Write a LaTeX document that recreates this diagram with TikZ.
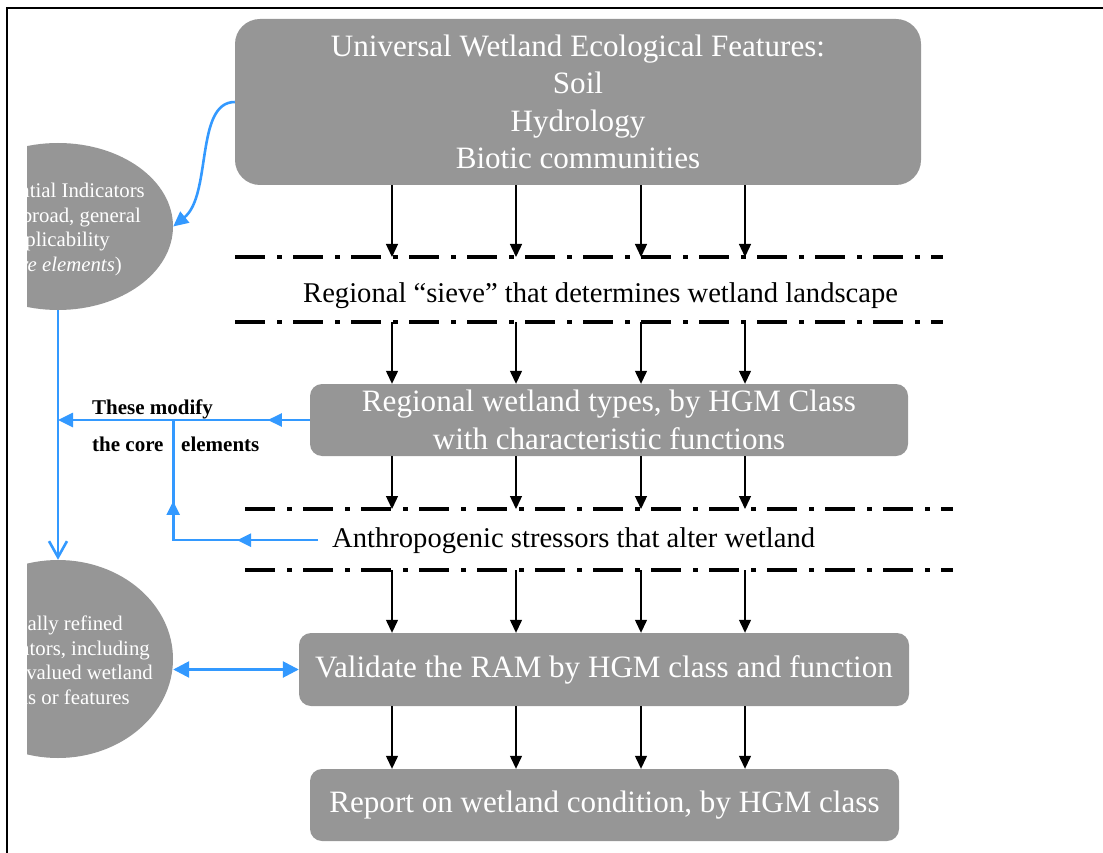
\documentclass[tikz,border=0pt]{standalone}
\usepackage{fontspec}
\setmainfont{Liberation Serif}
\usetikzlibrary{arrows.meta,shapes.geometric,decorations.markings}
\definecolor{boxgray}{RGB}{150,150,150}
\definecolor{linkblue}{RGB}{51,153,255}
\newcommand{\sieverow}[4]{
  \coordinate (#1) at (#2,#3);
  \draw[sieve] (#1) -- ++(#4,0);
}
\tikzset{
  stagebox/.style={fill=boxgray, rounded corners=12pt, text=white, inner sep=0pt,
    align=center, font=\fontsize{31.1}{37.5}\selectfont},
  indicator/.style={ellipse, fill=boxgray, inner sep=0pt},
  indtext/.style={text=white, anchor=base east, inner sep=0pt, font=\fontsize{20.8}{25}\selectfont},
  plain/.style={inner sep=0pt, font=\fontsize{28.6}{34}\selectfont},
  modtext/.style={inner sep=0pt, font=\fontsize{21}{26}\selectfont\bfseries},
  sieve/.style={line width=4pt, dash pattern=on 30pt off 12pt on 5pt off 11pt},
  flow/.style={-{Triangle[length=13pt,width=12pt]}, line width=1.3pt},
  link/.style={linkblue, line width=2.6pt},
  linktip/.style={-{Triangle[length=15pt,width=14pt]}},
  midtip/.style={postaction={decorate, decoration={markings,
    mark=at position #1 with {\arrow{Triangle[length=14pt,width=13pt]}}}}}
}

\begin{document}
\begin{tikzpicture}[x=1pt, y=-1pt]
\useasboundingbox (0,0) rectangle (1103,853);
\draw[line width=2pt] (7,853) -- (7,8) -- (1103,8);

% main column
\node[stagebox, rounded corners=25pt, minimum width=686pt, minimum height=166pt] (top) at (578,102)
  {Universal Wetland Ecological Features:\\Soil\\Hydrology\\Biotic communities};
\node[stagebox, minimum width=598pt, minimum height=72pt] (types) at (609,420)
  {Regional wetland types, by HGM Class\\with characteristic functions};
\node[stagebox, minimum width=610pt, minimum height=73pt] (validate) at (604,669.5)
  {Validate the RAM by HGM class and function};
\node[stagebox, minimum width=589pt, minimum height=72pt] (report) at (604.5,805)
  {Report on wetland condition, by HGM class};

% sieves
\sieverow{s1}{235}{257}{708}
\sieverow{s2}{235}{322}{708}
\sieverow{s3}{245}{509}{708}
\sieverow{s4}{245}{570}{708}
\node[plain, anchor=base west] (sieve) at (303,302) {Regional “sieve” that determines wetland landscape};
\node[plain, anchor=base west] (stress) at (332,547) {Anthropogenic stressors that alter wetland};

\foreach \x [count=\i] in {392,516,641,745} {
  \coordinate (c\i) at (\x,0);
  \draw[flow] (top.south -| c\i) -- (s1 -| c\i);
  \draw[flow] (s2 -| c\i) -- (types.north -| c\i);
  \draw[flow] (types.south -| c\i) -- (s3 -| c\i);
  \draw[flow] (s4 -| c\i) -- (validate.north -| c\i);
  \draw[flow] (validate.south -| c\i) -- (report.north -| c\i);
}

% indicators, cut at the left
\begin{scope}
\clip (27,0) rectangle (1103,853);
\node[indicator, minimum width=230pt, minimum height=167pt] (ell1) at (58,226.5) {};
\node[indtext] (p1) at (145,198) {Potential Indicators};
\node[indtext] (p2) at (141,223) {(broad, general};
\node[indtext] (p3) at (110,247) {applicability};
\node[indtext] (p4) at (122,272) {(\textit{core elements})};
\node[indicator, minimum width=230pt, minimum height=198pt] (ell2) at (58,659) {};
\node[indtext] (r1) at (123,630) {Regionally refined};
\node[indtext] (r2) at (150,655) {indicators, including};
\node[indtext] (r3) at (153,679) {highly valued wetland};
\node[indtext] (r4) at (130,704) {functions or features};
\end{scope}

% blue links
\draw[link, linktip] (top.west) .. controls (195,102) and (212,195) .. (ell1.east);
\draw[link, -{Straight Barb[length=16pt,width=18pt]}] (ell1.south) -- (ell2.north);
\coordinate (j1) at (ell1.south |- types.west);
\draw[link, linktip, midtip=42pt] (types.west) -- (j1);
\coordinate (stressin) at ([xshift=-14pt]stress.west);
\coordinate (j2) at (ell1.east |- stressin);
\coordinate (j3) at (ell1.east |- types.west);
\draw[link, midtip=81pt, midtip=184pt] (stressin) -- (j2) -- (j3);
\draw[link, {Triangle[length=16pt,width=16pt]}-{Triangle[length=16pt,width=16pt]}]
  (ell2.east |- validate.west) -- (validate.west);
\node[modtext, anchor=base west] (mod) at (92,414) {These modify};
\node[modtext, anchor=base west] (core) at (92,451) {the core};
\node[modtext, anchor=base west] (elem) at (181,451) {elements};
\end{tikzpicture}
\end{document}
